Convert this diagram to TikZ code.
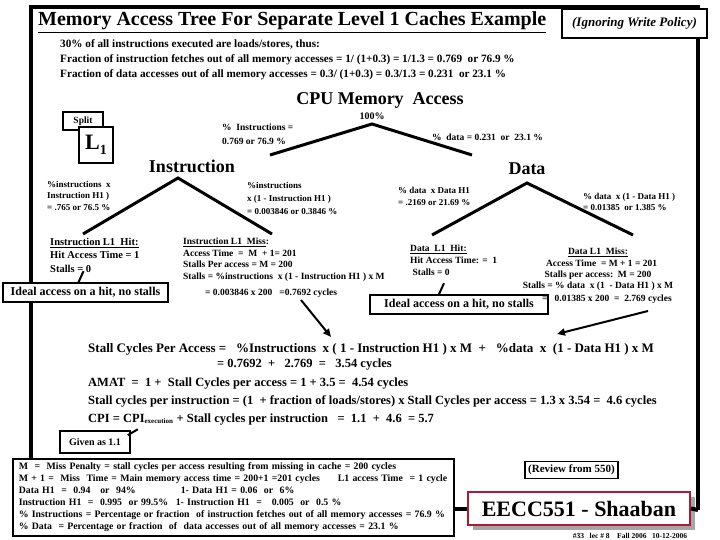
\documentclass[tikz,border=0pt]{standalone}
\usepackage{fontspec}
\setmainfont{Liberation Serif}
\usetikzlibrary{arrows.meta,shadows}
\definecolor{eecred}{RGB}{168,28,52}
\newcommand{\fsz}[2]{\fontsize{#1}{#2}\selectfont}

\tikzset{
  frame/.style={line width=4pt},
  branch/.style={line width=3pt},
  pointer/.style={line width=2pt},
  box/.style={draw, line width=1.6pt, fill=white, inner sep=0pt},
  txt/.style={anchor=north west, inner sep=0pt, align=left, font=\bfseries},
}

\begin{document}
\begin{tikzpicture}[x=1pt, y=-1pt]
\useasboundingbox (0,0) rectangle (720,540);

% frame
\coordinate (fbl) at (31,460);
\coordinate (ftl) at (31,7);
\coordinate (ftr) at (698,7);
\coordinate (fbr) at (698,510);
\draw[frame] (fbl) -- (ftl) -- (ftr) -- (fbr);

\node[anchor=base west, inner sep=0pt, font=\bfseries\fsz{20}{20}] (title) at (38,26)
  {\underline{Memory Access Tree For Separate Level 1 Caches Example}};
\node[box, minimum width=145, minimum height=29, font=\bfseries\itshape\fsz{13}{13}] (policy) at (634.5,23.5)
  {(Ignoring Write Policy)};

\node[txt, font=\bfseries\fsz{11.2}{15}] (intro) at (60,39)
  {30\% of all instructions executed are loads/stores, thus:\\
   Fraction of instruction fetches out of all memory accesses = 1/ (1+0.3) = 1/1.3 = 0.769\ \ or 76.9 \%\\
   Fraction of data accesses out of all memory accesses = 0.3/ (1+0.3) = 0.3/1.3 = 0.231\ \ or 23.1 \%};

% split L1
\node[box, line width=1.3pt, minimum width=40, minimum height=18, font=\bfseries\fsz{9.5}{9.5}] (split) at (83,121) {Split};
\node[box, line width=1.3pt, minimum width=34, minimum height=36, font=\bfseries\fsz{22}{22}] (lone) at (96,145)
  {L\raisebox{-0.25em}{\fsz{14}{14}1}};

% top level
\node[inner sep=0pt, font=\bfseries\fsz{18}{18}] (cpu) at (380,100) {CPU Memory\ \ Access};
\node[inner sep=0pt, font=\bfseries\fsz{10}{10}] (all) at (372,116) {100\%};
\coordinate (root) at (372,124);
\coordinate (rootl) at (270,155);
\coordinate (rootr) at (472,155);
\draw[branch] (rootl) -- (root) -- (rootr);
\node[txt, font=\bfseries\fsz{9.5}{14}] (pinst) at (222,124) {\%\ \ Instructions =\\ 0.769 or 76.9 \%};
\node[txt, font=\bfseries\fsz{9.5}{14}] (pdata) at (432,134) {\%\ \ data = 0.231\ \ or\ \ 23.1 \%};

% instruction side
\node[inner sep=0pt, font=\bfseries\fsz{18}{18}] (inst) at (192,166) {Instruction};
\coordinate (ipeak) at (178,178);
\coordinate (ihitend) at (83,234);
\coordinate (imissend) at (272,234);
\draw[branch] (ihitend) -- (ipeak) -- (imissend);
\node[txt, font=\bfseries\fsz{9}{11.5}] (ihitpct) at (47,181)
  {\%instructions\ \ x\\ Instruction H1 )\\ = .765 or 76.5 \%};
\node[txt, font=\bfseries\fsz{9}{13}] (imisspct) at (247,182)
  {\%instructions\\ x (1 - Instruction H1 )\\ = 0.003846 or 0.3846 \%};

\node[txt, font=\bfseries\fsz{10.5}{13.5}] (ihit) at (50,238)
  {\underline{Instruction L1\ \ Hit:}\\ Hit Access Time = 1\\ Stalls = 0};
\node[box, minimum width=165, minimum height=19, font=\bfseries\fsz{12}{12}] (ideali) at (85.5,292.5)
  {Ideal access on a hit, no stalls};
\draw[pointer] ([xshift=-7pt]ideali.north) -- ++(5,-11);

\node[txt, font=\bfseries\fsz{9.5}{11.5}] (imiss) at (183,238)
  {\underline{Instruction L1\ \ Miss}:\\
   Access Time\ \ =\ \ M\ \ + 1= 201\\
   Stalls Per access = M = 200\\
   Stalls = \%instructions\ \ x (1 - Instruction H1 ) x M};
\node[txt, font=\bfseries\fsz{9.5}{11.5}] (imisscyc) at (205,289)
  {= 0.003846 x 200\ \ \ =0.7692 cycles};

% data side
\node[inner sep=0pt, font=\bfseries\fsz{18}{18}] (data) at (527,169) {Data};
\coordinate (dpeak) at (527,183);
\coordinate (dhitend) at (432,235);
\coordinate (dmissend) at (633,235);
\draw[branch] (dhitend) -- (dpeak) -- (dmissend);
\node[txt, font=\bfseries\fsz{9}{12}] (dhitpct) at (398,187)
  {\%\ data\ \ x Data H1\\ = .2169 or 21.69 \%};
\node[txt, font=\bfseries\fsz{9}{11.5}] (dmisspct) at (583,193)
  {\%\ data\ \ x (1 - Data H1 )\\ = 0.01385\ \ or 1.385 \%};

\node[txt, font=\bfseries\fsz{9.5}{12}] (dhit) at (410,245)
  {\underline{Data\ \ L1\ \ Hit:}\\ Hit Access Time: =\ \ 1\\ \ Stalls = 0};
\node[box, minimum width=178, minimum height=19, font=\bfseries\fsz{12}{12}] (ideald) at (459,304.5)
  {Ideal access on a hit, no stalls};
\draw[pointer] ([xshift=-20pt]ideald.north) -- ++(5,-11);

\node[anchor=north, inner sep=0pt, align=center, font=\bfseries\fsz{9.5}{11.3}] (dmiss) at (598,248)
  {\underline{Data L1\ \ Miss:}\\
   \ \ \ Access Time\ \ = M + 1 = 201\\
   Stalls per access:\ \ M = 200\\
   Stalls = \%\ data\ \ x (1\ \ - Data H1 ) x M};
\node[txt, font=\bfseries\fsz{9.5}{11.5}] (dmisscyc) at (542,295)
  {=\ \ \ 0.01385 x 200\ \ =\ \ 2.769 cycles};

% totals
\node[anchor=base west, inner sep=0pt, font=\bfseries\fsz{13}{13}] (sone) at (88,352)
  {Stall Cycles Per Access =\ \ \ \%Instructions\ \ x ( 1 - Instruction H1 ) x M\ \ +\ \ \ \%data\ \ x\ \ (1 - Data H1 ) x M};
\node[anchor=base west, inner sep=0pt, font=\bfseries\fsz{12.5}{12.5}] (stwo) at (217,367)
  {= 0.7692\ \ +\ \ \ 2.769\ \ =\ \ \ 3.54 cycles};
\node[anchor=base west, inner sep=0pt, font=\bfseries\fsz{12.5}{12.5}] (amat) at (88,386)
  {AMAT\ \ =\ \ 1 +\ \ Stall Cycles per access = 1 + 3.5 =\ \ 4.54 cycles};
\node[anchor=base west, inner sep=0pt, font=\bfseries\fsz{12.5}{12.5}] (spi) at (88,404)
  {Stall cycles per instruction = (1\ \ + fraction of loads/stores) x Stall Cycles per access = 1.3 x 3.54 =\ \ 4.6 cycles};
\node[anchor=base west, inner sep=0pt, font=\bfseries\fsz{12.5}{12.5}] (cpi) at (88,422)
  {CPI = CPI\textsubscript{\fsz{7}{7}execution} + Stall cycles per instruction\ \ \ =\ \ 1.1\ \ +\ \ 4.6\ \ = 5.7};

\coordinate (ifrom) at (301,300);
\coordinate (itip) at (331,337);
\coordinate (dfrom) at (648,311);
\coordinate (dtip) at (557,334);
\draw[pointer, -{Triangle[length=8pt,width=7pt]}] (ifrom) -- (itip);
\draw[pointer, -{Triangle[length=8pt,width=7pt]}] (dfrom) -- (dtip);

\node[box, line width=1.5pt, minimum width=70, minimum height=22, font=\bfseries\fsz{10}{10}] (given) at (95,442) {Given as 1.1};
\draw[pointer] ([shift={(-3,5)}]given.north east) -- ++(10,-6);

% definitions
\node[box, anchor=north west, inner xsep=6pt, inner ysep=4pt, text width=429pt, align=left,
      font=\bfseries\fsz{9.8}{12}] (defs) at (12,458)
  {M\ \ =\ \ Miss Penalty = stall cycles per access resulting from missing in cache = 200 cycles\\
   \makebox[319pt][l]{M + 1 =\ \ Miss\ \ Time = Main memory access time = 200+1 =201 cycles}L1 access Time\ \ = 1 cycle\\
   \makebox[162pt][l]{Data H1\ \ =\ \ 0.94\ \ \ or\ \ 94\%}1- Data H1 = 0.06\ \ or\ \ 6\%\\
   \makebox[157pt][l]{Instruction H1\ \ =\ \ 0.995\ \ or 99.5\%}1- Instruction H1\ \ =\ \ \ 0.005\ \ or\ \ 0.5 \%\\
   \% Instructions = Percentage or fraction\ \ of instruction fetches out of all memory accesses = 76.9 \%\\
   \% Data\ \ = Percentage or fraction\ \ of\ \ data accesses out of all memory accesses = 23.1 \%};

\node[box, line width=1.5pt, minimum width=93, minimum height=17, font=\bfseries\fsz{11}{11}] (review) at (571.5,470)
  {(Review from 550)};
\node[draw=eecred, line width=2pt, fill=white, minimum width=222, minimum height=33, inner sep=0pt,
      font=\bfseries\fsz{22}{22},
      drop shadow={shadow xshift=5pt, shadow yshift=-5pt, fill=gray!70, opacity=1}] (eecc) at (579,508.5)
  {EECC551 - Shaaban};
\draw[frame] (defs.east |- eecc.west) -- (eecc.west);
\draw[frame] (eecc.east) -- (fbr);
\node[inner sep=0pt, font=\bfseries\fsz{7.5}{7.5}] (slide) at (630,536)
  {\#33\ \ \ lec \# 8\ \ \ \ Fall 2006\ \ \ 10-12-2006};
\end{tikzpicture}
\end{document}
